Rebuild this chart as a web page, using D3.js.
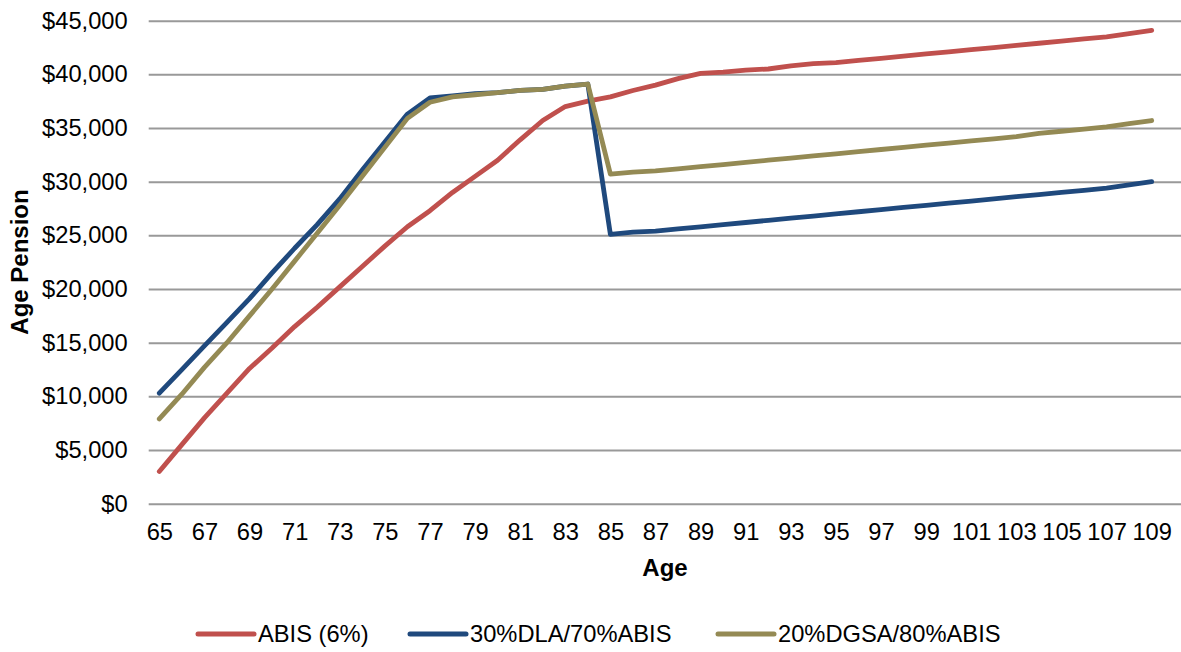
<!DOCTYPE html>
<html>
<head>
<meta charset="utf-8">
<script src="https://cdn.jsdelivr.net/npm/d3@7/dist/d3.min.js"></script>
<style>
  html, body { margin: 0; padding: 0; background: #fff; }
  svg text { font-family: "Liberation Sans", Arial, sans-serif; fill: #000; }
</style>
</head>
<body>
<svg id="chart" width="1181" height="652"></svg>
<script>
const ages = d3.range(65, 110);
const tickAges = ages.filter(a => a % 2 === 1);
const yTicks = [0, 5000, 10000, 15000, 20000, 25000, 30000, 35000, 40000, 45000];

const abis = [3000, 5500, 8000, 10300, 12600, 14500, 16500, 18300, 20200, 22100,
  24000, 25800, 27300, 29000, 30500, 32000, 33900, 35700, 37000, 37500,
  37900, 38500, 39000, 39600, 40100, 40200, 40400, 40500, 40800, 41000,
  41100, 41300, 41500, 41700, 41900, 42100, 42300, 42500, 42700, 42900,
  43100, 43300, 43500, 43800, 44100];
const dla = [10300, 12500, 14700, 16900, 19100, 21500, 23800, 26000, 28400, 31100,
  33700, 36300, 37800, 38000, 38200, 38300, 38500, 38600, 38900, 39100,
  25100, 25300, 25400, 25600, 25800, 26000, 26200, 26400, 26600, 26800,
  27000, 27200, 27400, 27600, 27800, 28000, 28200, 28400, 28600, 28800,
  29000, 29200, 29400, 29700, 30000];
const dgsa = [7900, 10200, 12700, 15000, 17500, 20000, 22600, 25200, 27800, 30500,
  33200, 35900, 37400, 37900, 38100, 38300, 38500, 38600, 38900, 39100,
  30700, 30900, 31000, 31200, 31400, 31600, 31800, 32000, 32200, 32400,
  32600, 32800, 33000, 33200, 33400, 33600, 33800, 34000, 34200, 34500,
  34700, 34900, 35100, 35400, 35700];

const seriesNames = ["ABIS (6%)", "30%DLA/70%ABIS", "20%DGSA/80%ABIS"];
const seriesColors = ["#C0504D", "#1F497D", "#948A54"];
const seriesValues = [abis, dla, dgsa];

const svg = d3.select("#chart");
const plotLeft = 148.7, plotRight = 1181;
const x = d3.scalePoint().domain(ages).range([159.3, 1151.7]);
const y = d3.scaleLinear().domain([0, 45000]).range([503.7, 20.7]);
const FS = 23.7;

// Y axis with gridlines
const yAxis = d3.axisLeft(y)
  .tickValues(yTicks)
  .tickFormat(d => "$" + d3.format(",")(d))
  .tickSizeInner(-(plotRight - plotLeft))
  .tickSizeOuter(0)
  .tickPadding(21);
const gy = svg.append("g").attr("transform", `translate(${plotLeft},0)`).call(yAxis);
gy.select(".domain").remove();
gy.selectAll(".tick line").attr("stroke", "#999").attr("stroke-width", 2);
gy.selectAll(".tick text").attr("font-size", FS).attr("fill", "#000")
  .style("font-family", '"Liberation Sans", Arial, sans-serif');

// X axis labels
const xAxis = d3.axisBottom(x).tickValues(tickAges).tickSize(0).tickPadding(0);
const gx = svg.append("g").attr("transform", `translate(0,503.7)`).call(xAxis);
gx.select(".domain").remove();
gx.selectAll(".tick text").attr("font-size", FS).attr("fill", "#000")
  .attr("y", 36.5).attr("dy", 0)
  .style("font-family", '"Liberation Sans", Arial, sans-serif');

// Lines
const line = d3.line().x((d, i) => x(ages[i])).y(d => y(d));
seriesValues.forEach((vals, i) => {
  svg.append("path")
    .datum(vals)
    .attr("fill", "none")
    .attr("stroke", seriesColors[i])
    .attr("stroke-width", 4.8)
    .attr("stroke-linejoin", "round")
    .attr("stroke-linecap", "round")
    .attr("d", line);
});

// Axis titles
svg.append("text")
  .attr("x", 665).attr("y", 576)
  .attr("text-anchor", "middle")
  .attr("font-size", 24).attr("font-weight", "bold")
  .text("Age");
svg.append("text")
  .attr("transform", "translate(28,262) rotate(-90)")
  .attr("text-anchor", "middle")
  .attr("font-size", 24).attr("font-weight", "bold")
  .text("Age Pension");

// Legend
const legendX = [198, 410, 718];
seriesNames.forEach((name, i) => {
  const g = svg.append("g").attr("transform", `translate(${legendX[i]},634)`);
  g.append("line").attr("x1", 0).attr("x2", 56).attr("y1", 0).attr("y2", 0)
    .attr("stroke", seriesColors[i]).attr("stroke-width", 5).attr("stroke-linecap", "round");
  g.append("text").attr("x", 60).attr("y", 7.5).attr("font-size", FS).text(name);
});
</script>
</body>
</html>
